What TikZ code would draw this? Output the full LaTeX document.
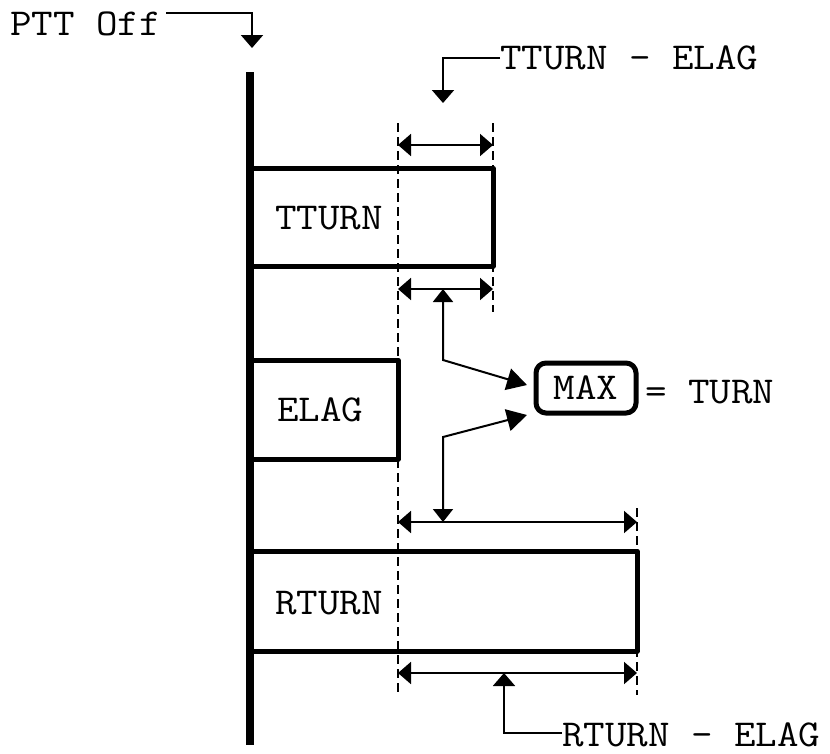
\documentclass[tikz,border=0pt]{standalone}
\usepackage{fontspec}
\newfontfamily\diagfont{Latin Modern Mono}[FakeStretch=1.1]
\usetikzlibrary{arrows.meta,positioning}
\tikzset{
  lbl/.style={font=\diagfont\fontsize{38}{42}\selectfont,inner sep=0pt},
  bar/.style={line width=8pt},
  boxline/.style={line width=5pt,line join=round},
  guide/.style={line width=1.7pt,dash pattern=on 9pt off 5pt},
  dimline/.style={line width=2pt,{Triangle[length=13pt,width=22pt]}-{Triangle[length=13pt,width=22pt]}},
  lead/.style={line width=2pt,-{Triangle[length=13pt,width=22pt]}},
  maxlead/.style={line width=2pt,{Triangle[length=13pt,width=20pt]}-{Triangle[length=20pt,width=22pt]}},
}
\begin{document}
\begin{tikzpicture}[x=1pt,y=-1pt]
  \useasboundingbox (0,0) rectangle (830,753);
  % dashed guides
  \draw[guide] (398,123) -- (398,695);
  \draw[guide] (493,123) -- (493,312);
  \draw[guide] (637,508) -- (637,695);
  % time line and bars
  \draw[bar] (250,72) -- (250,745);
  \draw[boxline] (250,168) -- (493,168) -- (493,266) -- (250,266);
  \draw[boxline] (250,360) -- (398,360) -- (398,459) -- (250,459);
  \draw[boxline] (250,551) -- (637,551) -- (637,651) -- (250,651);
  \node[lbl,anchor=west] (tturn) at (275,218) {TTURN};
  \node[lbl,anchor=west] (elag) at (277,410) {ELAG};
  \node[lbl,anchor=west] (rturn) at (275,603) {RTURN};
  % labels
  \node[lbl,anchor=base west] (ptt) at (10,35) {PTT Off};
  \node[lbl,anchor=west] (tediff) at (500,58) {TTURN - ELAG};
  \node[lbl,anchor=base west] (rediff) at (562,746) {RTURN - ELAG};
  \node[lbl,draw,line width=5pt,rounded corners=10pt,minimum width=100pt,minimum height=50pt] (max) at (586,388) {MAX};
  \node[lbl,anchor=west] (turn) at (645,392) {= TURN};
  % dimension arrows
  \coordinate (t1l) at (398,145); \coordinate (t1r) at (493,145);
  \coordinate (t2l) at (398,289); \coordinate (t2r) at (493,289);
  \coordinate (r1l) at (398,522); \coordinate (r1r) at (637,522);
  \coordinate (r2l) at (398,673); \coordinate (r2r) at (637,673);
  \draw[dimline] (t1l) -- (t1r);
  \draw[dimline] (t2l) -- (t2r);
  \draw[dimline] (r1l) -- (r1r);
  \draw[dimline] (r2l) -- (r2r);
  % leaders
  \coordinate (pttin) at (252,48);
  \coordinate (tetip) at (443,103);
  \coordinate (retip) at (504,673);
  \draw[lead] ([xshift=5pt]ptt.east |- 0,13) -| (pttin);
  \draw[lead] (tediff.west) -| (tetip);
  \draw[lead] (rediff.west |- 0,733) -| (retip);
  \coordinate (maxa) at (527,385);
  \coordinate (maxb) at (527,415);
  \draw[maxlead] (443,289) -- (443,360) -- (maxa);
  \draw[maxlead] (443,522) -- (443,437) -- (maxb);
\end{tikzpicture}
\end{document}
